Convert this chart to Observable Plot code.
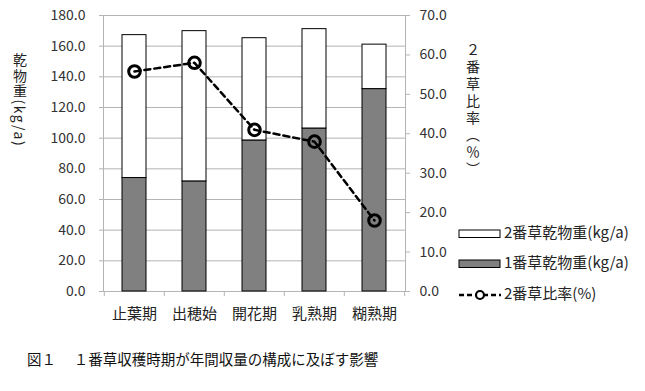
<!DOCTYPE html>
<html><head><meta charset="utf-8">
<script src="https://cdn.jsdelivr.net/npm/d3@7"></script>
<script src="https://cdn.jsdelivr.net/npm/@observablehq/plot@0.6"></script>
<style>
body{margin:0;background:#fff;font-family:'Noto Sans CJK JP',sans-serif;}
#wrap{position:relative;width:645px;height:391px;}
#cap{position:absolute;left:27px;top:348px;font-size:14.5px;color:#111;white-space:pre;}
</style></head>
<body><div id="wrap"><div id="chart"></div><div id="cap">図１　 １番草収穫時期が年間収量の構成に及ぼす影響</div></div>
<script>
const categories = ["止葉期","出穂始","開花期","乳熟期","糊熟期"];
const firstCut = [74.0, 71.8, 98.5, 106.3, 132.0];
const secondCut = [93.2, 98.0, 66.7, 64.8, 29.0];
const ratio = [55.8, 58.0, 41.0, 38.0, 18.0];
const leftTicks = [0,20,40,60,80,100,120,140,160,180];
const rightTicks = [0,10,20,30,40,50,60,70];
const seriesNames = ["2番草乾物重(kg/a)","1番草乾物重(kg/a)","2番草比率(%)"];
const leftTitle = "乾物重(kg/a)";
const rightTitle = "２番草比率（％）";

const k = 180/70;
const rows = categories.flatMap((c,i)=>[
  {cat:c, series:seriesNames[1], v:firstCut[i], fill:"#808080"},
  {cat:c, series:seriesNames[0], v:secondCut[i], fill:"#ffffff"}
]);
const ratioRows = categories.map((c,i)=>({cat:c, r:ratio[i]}));
const step = 302/5;

const plot = Plot.plot({
  width:645, height:335,
  marginLeft:103, marginRight:240, marginTop:15, marginBottom:44,
  style:{fontFamily:"'Noto Sans CJK JP', sans-serif", fontSize:"14px", color:"#333", background:"#fff", overflow:"visible"},
  x:{domain:categories, paddingInner:0.6, paddingOuter:0.3},
  y:{domain:[0,180]},
  color:{type:"identity"},
  marks:[
    Plot.gridY(leftTicks.filter(d=>d>0), {stroke:"#b4b4b4", strokeOpacity:1}),
    Plot.frame({stroke:"#b4b4b4"}),
    Plot.axisY(leftTicks, {anchor:"left", tickSize:4, tickPadding:14, stroke:"#b4b4b4", fill:"#333", fontSize:14, tickFormat:d=>d.toFixed(1), label:null}),
    Plot.axisY(rightTicks.map(d=>d*k), {anchor:"right", tickSize:4, tickPadding:10, stroke:"#b4b4b4", fill:"#333", fontSize:14, tickFormat:d=>(d/k).toFixed(1), label:null}),
    Plot.axisX({tickSize:0, tickPadding:17, fontSize:15, fill:"#222", label:null}),
    Plot.ruleX(categories, {x:d=>d, dx:-step/2, y1:0, y2:0, insetBottom:-5, stroke:"#b4b4b4"}),
    Plot.ruleX(categories.slice(-1), {x:d=>d, dx:step/2, y1:0, y2:0, insetBottom:-5, stroke:"#b4b4b4"}),
    Plot.barY(rows, {x:"cat", y:"v", fill:"fill", stroke:"#000", strokeWidth:1}),
    Plot.line(ratioRows, {x:"cat", y:d=>d.r*k, stroke:"#000", strokeWidth:2.5, strokeDasharray:"6,4"}),
    Plot.dot(ratioRows, {x:"cat", y:d=>d.r*k, r:5.8, stroke:"#000", strokeWidth:3, fill:"none"})
  ]
});
document.getElementById("chart").appendChild(plot);

const svg = d3.select(plot);
svg.append("text").text(leftTitle)
  .attr("x",20).attr("y",53).attr("text-anchor","start")
  .style("writing-mode","vertical-rl").style("letter-spacing","1.5px")
  .attr("font-size",14).attr("fill","#222");
svg.append("text").text(rightTitle)
  .attr("x",473).attr("y",43).attr("text-anchor","start")
  .style("writing-mode","vertical-rl").style("letter-spacing","3px")
  .attr("font-size",14).attr("fill","#222");

const lg = svg.append("g").attr("text-anchor","start");
lg.append("rect").attr("x",459).attr("y",230).attr("width",41).attr("height",7.5).attr("fill","#fff").attr("stroke","#000");
lg.append("rect").attr("x",459).attr("y",260).attr("width",41).attr("height",7.5).attr("fill","#808080").attr("stroke","#000");
lg.append("line").attr("x1",459).attr("x2",501).attr("y1",295).attr("y2",295).attr("stroke","#000").attr("stroke-width",2.5).attr("stroke-dasharray","5,3");
lg.append("circle").attr("cx",480).attr("cy",295).attr("r",4).attr("fill","#fff").attr("stroke","#000").attr("stroke-width",2.2);
[234,264,295].forEach((y,i)=>{
  lg.append("text").text(seriesNames[i]).attr("x",504).attr("y",y)
    .attr("dominant-baseline","middle").attr("font-size",15).attr("fill","#222");
});
</script></body></html>
